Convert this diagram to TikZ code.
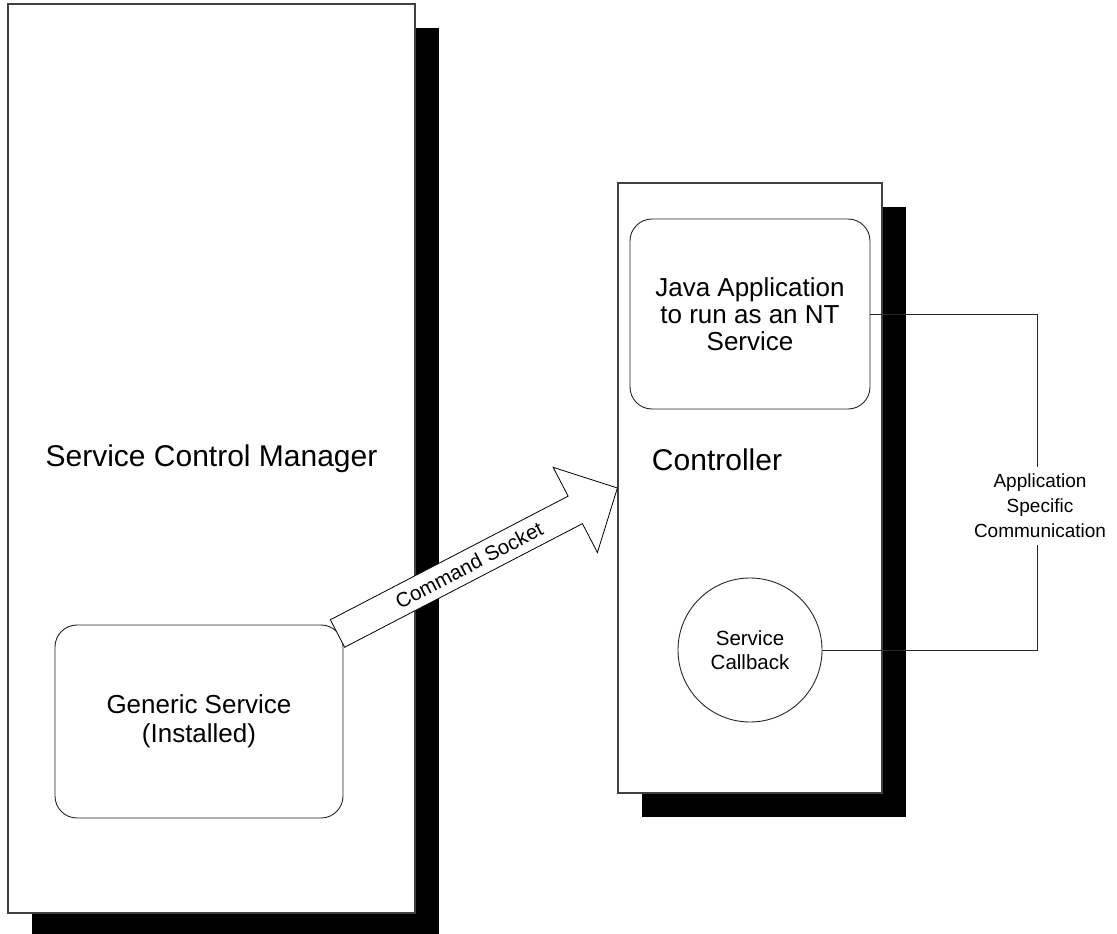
\documentclass[tikz,border=0pt]{standalone}
\usepackage{fontspec}
\setmainfont{Liberation Sans}
\usetikzlibrary{shadows,calc}
\begin{document}
\begin{tikzpicture}[x=1pt,y=-1pt,
  bigbox/.style={draw=black!75, line width=1.2pt, fill=white, inner sep=0pt,
    drop shadow={shadow xshift=24pt, shadow yshift=-24pt, fill=black, opacity=1}},
  roundbox/.style={draw=black!85, line width=0.9pt, fill=white, rounded corners=22pt,
    align=center, inner sep=0pt},
  bigtext/.style={font=\fontsize{30}{34}\selectfont},
  conn/.style={draw=black!85, line width=0.9pt},
  bigarrow/.style={draw=black, line width=0.8pt, fill=white, line join=miter}
]
\useasboundingbox (0,0) rectangle (1117,934);

% big containers
\node[bigbox, bigtext, minimum width=407pt, minimum height=909pt] (scm) at (211.5,458.5) {Service Control Manager};
\node[bigbox, minimum width=264pt, minimum height=610pt] (ctrl) at (750,488) {};
\node[bigtext] (ctrllbl) at (717,460) {Controller};

% inner shapes
\node[roundbox, minimum width=240pt, minimum height=190pt, font=\fontsize{26}{27}\selectfont] (java) at (750,314) {Java Application\\to run as an NT\\Service};
\node[roundbox, minimum width=288pt, minimum height=193pt, font=\fontsize{26}{29}\selectfont] (gen) at (199,721.5) {Generic Service\\(Installed)};
\node[circle, draw=black!85, line width=0.9pt, fill=white, minimum size=144pt, inner sep=0pt,
  align=center, font=\fontsize{20.5}{24.5}\selectfont] (cb) at (750,650) {Service\\Callback};

% application specific communication link
\coordinate (rt) at (1037,314);
\coordinate (rb) at (1037,650);
\draw[conn] (java.east) -- (rt) -- (rb) -- (cb.east);
\node[fill=white, inner xsep=1pt, inner ysep=7pt, font=\fontsize{19}{25}\selectfont, align=center] (asc) at (1040,506) {Application\\Specific\\Communication};

% command socket block arrow
\coordinate (tail) at (337.5,633.5);
\coordinate (tip) at (ctrl.west);
\coordinate (hb) at ($(tail)!268pt!(tip)$);
\draw[bigarrow]
  ($(tail)!15.5pt!90:(tip)$) --
  ($(hb)!15.5pt!90:(tip)$) --
  ($(hb)!48pt!90:(tip)$) --
  (tip) --
  ($(hb)!48pt!-90:(tip)$) --
  ($(hb)!15.5pt!-90:(tip)$) --
  ($(tail)!15.5pt!-90:(tip)$) -- cycle;
\path (tail) -- (tip) node[pos=0.47, sloped, font=\fontsize{20.5}{24}\selectfont] (cmd) {Command Socket};
\end{tikzpicture}
\end{document}
